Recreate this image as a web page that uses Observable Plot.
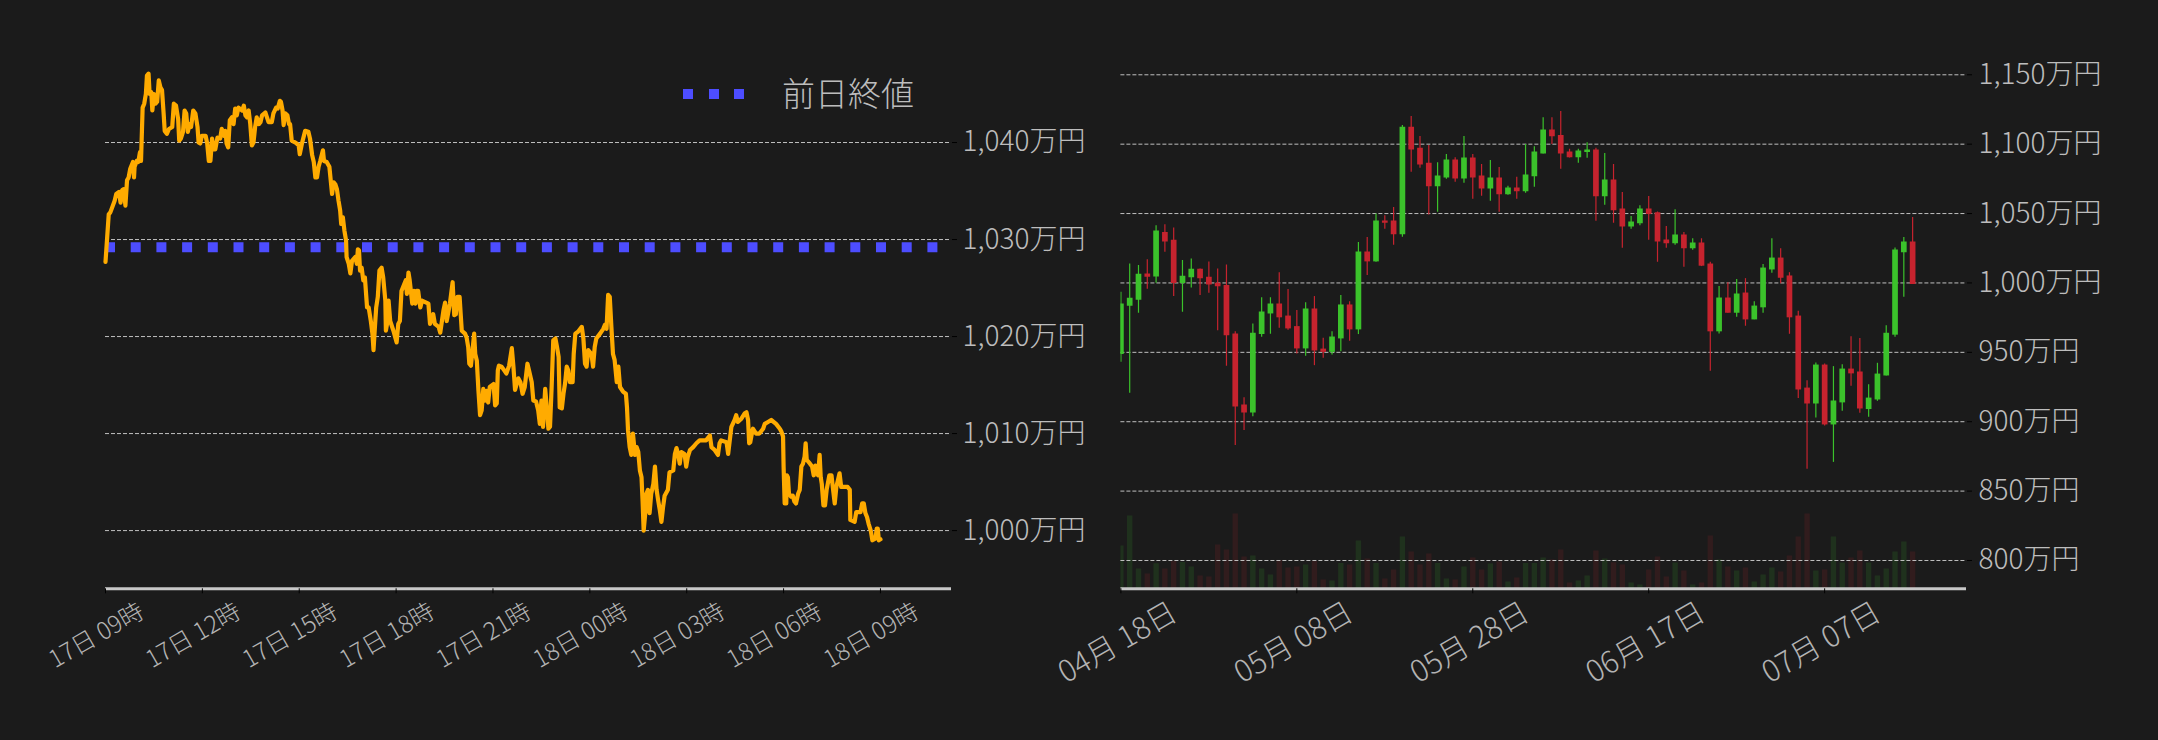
<!DOCTYPE html>
<html><head><meta charset="utf-8">
<script src="https://cdn.jsdelivr.net/npm/d3@7"></script>
<script src="https://cdn.jsdelivr.net/npm/@observablehq/plot@0.6"></script>
<style>
html,body{margin:0;padding:0;background:#1b1b1b;}
#wrap{position:relative;width:2158px;height:740px;background:#1b1b1b;overflow:hidden;font-family:"Noto Sans CJK JP","Noto Sans",sans-serif;font-weight:300;}
#wrap svg{position:absolute;top:0;}
.sq{position:absolute;top:89px;width:10px;height:10px;background:#4d4dff;}
.legtext{position:absolute;left:782px;top:72px;font-size:33px;line-height:40px;color:#bdbdbd;white-space:nowrap;font-weight:300;}
</style></head>
<body><div id="wrap">
<div class="sq" style="left:683px"></div><div class="sq" style="left:708.7px"></div><div class="sq" style="left:734.4px"></div>
<div class="legtext">前日終値</div>
</div>
<script>
// ---------- Left: intraday price (万円) ----------
const intradayStart = "2024-07-17T09:00Z";
const intradayEnd = "2024-07-18T11:12Z";
const intradayMinutes = [0,6,9,17,20,25,28,31,34,37,40,43,46,51,53,54,58,61,64,66,69,72,75,77,80,82,85,87,90,93,96,99,102,105,108,110,114,118,124,127,131,135,137,140,144,147,150,153,156,159,163,167,171,173,176,179,186,189,192,195,198,201,204,208,213,216,220,223,225,228,231,235,238,241,244,247,254,257,260,263,266,269,272,275,278,281,285,288,291,297,303,309,312,317,320,324,326,329,331,334,338,341,343,346,353,359,361,365,371,377,380,384,387,390,393,396,399,404,406,411,416,421,424,427,430,433,436,438,441,444,447,448,452,455,458,464,467,469,471,473,476,479,482,486,489,493,496,498,501,503,506,509,513,516,520,521,524,526,529,535,541,544,547,550,555,558,560,563,565,570,573,576,578,581,585,588,600,603,609,612,619,622,628,631,634,640,645,648,651,654,658,660,662,668,671,674,676,679,682,685,687,690,693,696,699,702,705,708,711,714,721,724,727,729,731,736,745,750,755,758,761,767,771,775,779,784,787,792,795,800,804,807,810,813,817,820,823,826,829,832,836,839,842,844,848,851,854,857,860,863,868,870,873,878,885,888,891,894,897,903,906,909,912,919,925,928,931,934,937,940,943,946,950,953,956,962,967,969,971,974,977,980,984,987,990,993,996,998,1000,1003,1005,1008,1011,1014,1018,1021,1024,1027,1030,1033,1036,1039,1045,1048,1055,1058,1061,1064,1067,1070,1076,1079,1082,1086,1092,1098,1104,1116,1123,1126,1132,1138,1141,1144,1154,1157,1160,1163,1169,1172,1175,1181,1188,1191,1194,1196,1198,1201,1203,1209,1215,1222,1225,1231,1237,1246,1253,1256,1259,1260,1262,1265,1266,1268,1270,1274,1277,1280,1283,1287,1290,1293,1296,1299,1301,1303,1309,1313,1316,1319,1324,1327,1329,1331,1334,1337,1340,1345,1349,1352,1355,1358,1364,1367,1379,1383,1384,1392,1395,1403,1406,1409,1412,1415,1418,1422,1425,1431,1433,1435,1437,1440];
const intradayPrices = [1027.7,1032.6,1032.8,1034.0,1034.7,1034.9,1033.8,1035.1,1035.2,1033.5,1036.1,1036.4,1037.3,1038.0,1036.4,1037.5,1038.1,1038.0,1039.0,1038.1,1043.6,1044.0,1045.0,1046.9,1047.1,1045.0,1045.2,1043.3,1045.0,1044.0,1044.2,1046.4,1045.7,1045.4,1043.0,1041.2,1040.9,1041.4,1041.6,1044.0,1043.8,1042.4,1040.2,1040.4,1041.1,1043.3,1043.0,1041.1,1041.9,1041.6,1043.3,1043.0,1041.6,1040.0,1039.9,1040.7,1040.7,1039.9,1038.1,1038.1,1040.4,1039.3,1039.3,1040.5,1040.4,1041.4,1040.7,1041.2,1039.9,1039.5,1042.3,1042.6,1041.9,1043.5,1042.8,1043.6,1043.3,1043.8,1042.8,1042.6,1043.3,1041.9,1039.7,1040.0,1041.6,1042.6,1041.9,1042.1,1042.8,1043.1,1042.1,1042.1,1043.0,1043.6,1043.5,1044.3,1044.2,1043.3,1041.8,1043.0,1042.8,1041.9,1041.9,1040.2,1040.0,1039.7,1038.8,1039.9,1041.2,1041.1,1040.4,1038.7,1038.0,1036.4,1036.4,1037.5,1038.1,1039.2,1038.1,1038.0,1037.5,1034.7,1035.9,1035.7,1035.2,1034.0,1033.0,1031.6,1032.3,1030.9,1029.9,1028.2,1027.5,1026.5,1027.8,1028.2,1027.5,1029.0,1028.9,1026.8,1027.1,1025.8,1026.1,1023.0,1023.0,1021.6,1020.3,1018.6,1021.3,1023.0,1024.1,1026.8,1027.1,1026.1,1023.7,1020.6,1021.6,1023.7,1021.6,1020.6,1019.4,1021.3,1021.6,1024.7,1025.4,1025.8,1024.4,1026.6,1025.9,1023.4,1024.7,1023.4,1024.7,1024.7,1023.0,1023.7,1023.4,1021.3,1022.3,1021.3,1021.0,1020.4,1022.7,1023.5,1021.6,1023.4,1025.6,1022.2,1022.3,1024.1,1024.1,1022.3,1020.6,1020.3,1019.9,1018.9,1017.2,1017.0,1018.6,1020.3,1018.2,1017.5,1014.4,1011.9,1012.4,1014.6,1013.4,1014.4,1013.2,1014.8,1015.1,1012.9,1013.1,1016.5,1017.0,1016.9,1016.2,1017.0,1018.8,1016.9,1014.5,1015.7,1015.3,1014.1,1014.8,1017.2,1016.5,1015.3,1013.4,1013.3,1012.4,1011.0,1013.4,1010.7,1014.6,1012.7,1010.5,1010.7,1014.8,1019.6,1019.8,1018.9,1017.9,1012.7,1012.6,1014.1,1015.2,1016.9,1016.5,1015.3,1015.3,1018.2,1020.3,1020.5,1021.0,1019.8,1017.2,1016.9,1018.6,1018.2,1016.9,1018.9,1019.8,1020.3,1020.8,1021.2,1020.8,1024.3,1024.1,1021.0,1018.2,1017.6,1015.3,1016.9,1014.8,1014.3,1014.1,1012.7,1010.3,1008.6,1007.8,1010.0,1007.8,1008.6,1008.1,1006.2,1005.5,1003.0,1000.0,1001.8,1003.8,1004.2,1001.8,1003.8,1004.8,1006.6,1004.2,1003.1,1002.1,1000.9,1002.4,1003.6,1004.2,1006.0,1006.2,1007.9,1008.5,1007.9,1006.9,1008.1,1007.9,1006.6,1007.6,1008.3,1008.6,1009.0,1009.3,1009.3,1009.8,1008.6,1008.3,1007.8,1009.0,1009.3,1009.1,1007.9,1009.3,1010.7,1011.4,1011.9,1011.2,1011.5,1012.1,1012.2,1011.4,1009.0,1009.1,1010.0,1010.5,1010.0,1010.0,1010.5,1011.0,1011.2,1011.4,1011.0,1010.5,1010.2,1009.7,1006.6,1002.8,1002.8,1005.7,1005.5,1003.8,1003.5,1003.6,1003.0,1002.8,1003.8,1004.2,1006.6,1006.9,1007.6,1009.0,1007.3,1006.9,1006.6,1005.7,1006.7,1005.7,1007.8,1005.5,1004.8,1002.6,1002.6,1004.2,1005.7,1005.7,1004.2,1002.8,1004.5,1005.9,1004.5,1004.5,1004.2,1001.1,1000.9,1001.9,1001.9,1002.8,1002.8,1001.8,1001.4,1000.7,1000.0,999.0,999.2,1000.2,1000.2,999.0,999.1];
const prevClose = 1029.2;
const leftYDomain = [994, 1050];
const leftYTicks = [1000, 1010, 1020, 1030, 1040];
const hourTicks = ["2024-07-17T09:00Z","2024-07-17T12:00Z","2024-07-17T15:00Z","2024-07-17T18:00Z","2024-07-17T21:00Z","2024-07-18T00:00Z","2024-07-18T03:00Z","2024-07-18T06:00Z","2024-07-18T09:00Z"];
const hourTickLabels = ["17日 09時","17日 12時","17日 15時","17日 18時","17日 21時","18日 00時","18日 03時","18日 06時","18日 09時"];

// ---------- Right: daily candles (万円) ----------
const candleFirstDay = "2024-04-18";
const candleLastDay = "2024-07-17";
const rightXEnd = "2024-07-23T03:00Z";
const opens  = [948.8,983.7,988.0,1006.0,1004.8,1036.0,1030.3,1000.0,1004.1,1009.4,1003.6,999.3,997.8,962.8,911.6,906.8,963.2,978.1,984.4,975.7,968.1,952.9,980.8,951.9,950.4,960.1,983.7,966.6,1021.9,1015.6,1044.2,1044.2,1035.1,1111.7,1096.6,1085.8,1069.7,1076.1,1088.2,1075.4,1089.6,1076.6,1068.2,1075.2,1063.9,1068.0,1066.1,1076.9,1093.4,1109.8,1105.9,1093.9,1090.6,1094.4,1095.4,1062.5,1073.7,1052.8,1040.8,1043.0,1052.8,1050.2,1030.5,1028.6,1034.1,1025.0,1028.3,1013.2,965.2,988.7,978.6,992.3,973.8,982.5,1009.8,1017.5,1004.6,975.7,923.8,913.2,940.4,898.1,914.0,937.5,935.4,909.2,916.1,933.4,962.8,1022.1,1029.1];
const highs  = [993.3,1013.7,1012.5,1016.8,1041.3,1042.0,1039.6,1016.1,1017.3,1010.1,1015.1,1010.1,1013.0,964.9,917.3,970.5,989.4,989.4,1007.4,995.2,980.1,985.8,990.2,960.1,964.9,990.9,986.5,1029.1,1032.7,1049.7,1048.5,1054.3,1113.4,1119.9,1105.5,1099.0,1086.7,1092.5,1090.3,1105.5,1092.5,1085.3,1088.2,1083.1,1069.7,1076.1,1099.7,1098.2,1119.1,1119.1,1123.5,1096.3,1096.3,1101.1,1097.0,1093.2,1085.3,1065.1,1047.8,1055.7,1062.2,1051.2,1040.6,1052.8,1036.3,1031.9,1031.9,1014.9,997.4,1000.2,1002.4,1003.1,986.5,1013.2,1031.9,1024.7,1007.4,979.6,929.6,942.3,941.6,939.7,941.1,961.3,959.9,926.7,942.1,969.2,1025.2,1032.7,1047.1];
const lows   = [942.8,920.5,978.1,995.4,999.8,1022.1,990.2,978.9,996.4,990.9,992.6,965.6,939.9,882.8,893.6,903.6,960.8,963.0,967.3,966.0,948.8,947.1,940.4,945.7,948.1,950.4,957.9,962.8,1005.3,1015.0,1038.7,1027.1,1032.9,1079.7,1082.6,1049.0,1050.9,1074.7,1072.5,1071.8,1060.3,1062.5,1058.9,1050.9,1063.2,1060.3,1064.6,1068.9,1093.0,1099.7,1081.9,1090.0,1086.2,1089.8,1044.4,1056.0,1043.0,1025.0,1038.7,1041.3,1030.7,1014.9,1025.0,1027.1,1011.3,1023.5,1011.8,936.3,963.2,978.1,975.3,968.8,973.5,978.1,1007.0,999.5,963.0,916.8,865.7,902.7,896.9,870.7,907.5,925.5,906.1,903.2,914.7,933.0,960.8,989.7,999.0];
const closes = [984.4,988.5,1005.8,1004.6,1037.0,1030.0,1000.0,1004.3,1009.4,1003.4,999.0,997.6,962.3,911.1,906.8,963.3,978.6,984.4,975.3,967.3,952.9,980.8,951.4,950.4,960.6,983.7,966.6,1021.9,1015.6,1044.2,1043.5,1035.1,1111.7,1096.3,1085.5,1069.7,1076.6,1088.2,1075.4,1089.6,1076.1,1068.2,1075.2,1063.9,1068.0,1066.1,1077.3,1093.9,1109.8,1105.7,1093.4,1090.6,1094.6,1095.4,1062.5,1073.7,1052.4,1040.8,1043.5,1052.8,1049.7,1030.0,1028.6,1034.1,1025.0,1028.3,1012.5,965.2,988.7,978.6,991.6,973.8,982.9,1010.3,1017.5,1003.8,975.3,923.3,913.2,940.4,898.1,914.5,937.5,934.9,909.6,916.6,933.9,963.3,1023.3,1029.1,999.3];
const volumes = [42.7,72.7,19.7,14.7,25.0,19.7,27.3,26.3,21.7,12.7,11.7,43.7,38.7,74.7,31.7,32.7,19.7,13.7,28.3,20.7,21.7,23.7,27.3,8.7,7.7,25.3,23.7,47.7,29.7,25.3,9.7,18.7,51.7,36.7,23.7,34.7,25.3,9.7,8.7,21.7,30.7,18.7,24.7,26.7,6.7,10.7,25.3,25.3,30.7,28.7,38.7,5.7,7.7,12.7,37.7,29.7,26.0,23.7,5.7,3.7,18.7,31.7,11.7,25.7,17.7,3.7,5.7,52.7,28.7,21.7,17.7,20.7,6.7,13.7,20.7,16.7,32.7,51.7,74.7,17.7,18.7,51.7,25.7,30.7,37.7,25.7,12.7,19.7,36.7,46.7,36.7];
const rightYDomain = [779.6, 1171.1];
const rightYTicks = [800, 850, 900, 950, 1000, 1050, 1100, 1150];
const dayTicks = ["2024-04-18","2024-05-08","2024-05-28","2024-06-17","2024-07-07"];
const dayTickLabels = ["04月 18日","05月 08日","05月 28日","06月 17日","07月 07日"];

// ---------- build ----------
const FONT = '"Noto Sans CJK JP", "Noto Sans", sans-serif';
const GREEN = "#3bc22b", RED = "#c6232e";
const fmtMan = d => d3.format(",")(d) + "万円";
const t0 = new Date(intradayStart).getTime();
const intraday = intradayMinutes.map((m, i) => ({t: new Date(t0 + m * 60000), v: intradayPrices[i]}));
const hourTickDates = hourTicks.map(s => new Date(s));
const days = d3.utcDay.range(new Date(candleFirstDay), d3.utcDay.offset(new Date(candleLastDay), 1));
const candles = days.map((d, i) => ({date: d, open: opens[i], high: highs[i], low: lows[i], close: closes[i], volume: volumes[i], up: closes[i] >= opens[i]}));
const dayTickDates = dayTicks.map(s => new Date(s));
const rightXDomain = [new Date(candleFirstDay), new Date(rightXEnd)];

const gridStyle = {stroke: "#d2d2d2", strokeOpacity: 0.9, strokeDasharray: "4,2", strokeWidth: 1};
const baseStyle = {background: "transparent", color: "#bdbdbd", fontFamily: FONT, fontWeight: 300, overflow: "visible"};

const left = Plot.plot({
  width: 1079, height: 740,
  marginLeft: 105, marginRight: 128, marginTop: 45, marginBottom: 151.7,
  style: baseStyle,
  x: {type: "utc", domain: [new Date(intradayStart), new Date(intradayEnd)]},
  y: {domain: leftYDomain},
  marks: [
    Plot.gridY(leftYTicks, gridStyle),
    Plot.ruleY([prevClose], {stroke: "#4d4dff", strokeWidth: 10, strokeDasharray: "10,15.7"}),
    Plot.line(intraday, {x: "t", y: "v", stroke: "#ffab00", strokeWidth: 4.2, strokeLinejoin: "round"}),
    Plot.ruleY([leftYDomain[0]], {stroke: "#c8c8c8", strokeWidth: 3}),
    Plot.axisY(leftYTicks, {anchor: "right", tickSize: 5, tickPadding: 6, stroke: "#000", fill: "#bdbdbd", fontSize: 28, tickFormat: fmtMan, label: null}),
    Plot.axisX(hourTickDates, {tickSize: 5, stroke: "#000", fill: "none", label: null}),
    Plot.text(hourTickDates, {x: d => d, text: (d, i) => hourTickLabels[i], frameAnchor: "bottom", dx: -9, dy: 47, rotate: -30, textAnchor: "middle", lineAnchor: "middle", fill: "#b3b3b3", fontSize: 24})
  ]
});
left.style.left = "0px";

const vol = Plot.plot({
  width: 1079, height: 740,
  marginLeft: 41.4, marginRight: 192, marginTop: 488.3, marginBottom: 151.7,
  style: baseStyle,
  color: {type: "identity"},
  x: {type: "utc", domain: rightXDomain, axis: null},
  y: {domain: [0, 100], axis: null},
  marks: [
    Plot.ruleX(candles, {x: "date", y: "volume", stroke: d => d.up ? "rgba(60,200,50,0.13)" : "rgba(200,40,50,0.13)", strokeWidth: 5.4, clip: true})
  ]
});
vol.style.left = "1079px";

const right = Plot.plot({
  width: 1079, height: 740,
  marginLeft: 41.4, marginRight: 192, marginTop: 45, marginBottom: 151.7,
  style: baseStyle,
  color: {type: "identity"},
  x: {type: "utc", domain: rightXDomain},
  y: {domain: rightYDomain},
  marks: [
    Plot.gridY(rightYTicks, gridStyle),
    Plot.ruleX(candles, {x: "date", y1: "low", y2: "high", stroke: d => d.up ? GREEN : RED, strokeWidth: 1.2, clip: true}),
    Plot.ruleX(candles, {x: "date", y1: d => Math.max(d.open, d.close), y2: d => Math.min(d.open, d.close), stroke: d => d.up ? GREEN : RED, strokeWidth: 5.7, insetTop: -0.6, insetBottom: -0.6, clip: true}),
    Plot.ruleY([rightYDomain[0]], {stroke: "#c8c8c8", strokeWidth: 3}),
    Plot.axisY(rightYTicks, {anchor: "right", tickSize: 5, tickPadding: 7, stroke: "#000", fill: "#bdbdbd", fontSize: 28, tickFormat: fmtMan, label: null}),
    Plot.axisX(dayTickDates, {tickSize: 5, stroke: "#000", fill: "none", label: null}),
    Plot.text(dayTickDates, {x: d => d, text: (d, i) => dayTickLabels[i], frameAnchor: "bottom", dx: -3, dy: 54, rotate: -30, textAnchor: "middle", lineAnchor: "middle", fill: "#b3b3b3", fontSize: 30})
  ]
});
right.style.left = "1079px";

const wrap = document.getElementById("wrap");
wrap.insertBefore(left, wrap.firstChild);
wrap.appendChild(vol);
wrap.appendChild(right);
</script></body></html>
